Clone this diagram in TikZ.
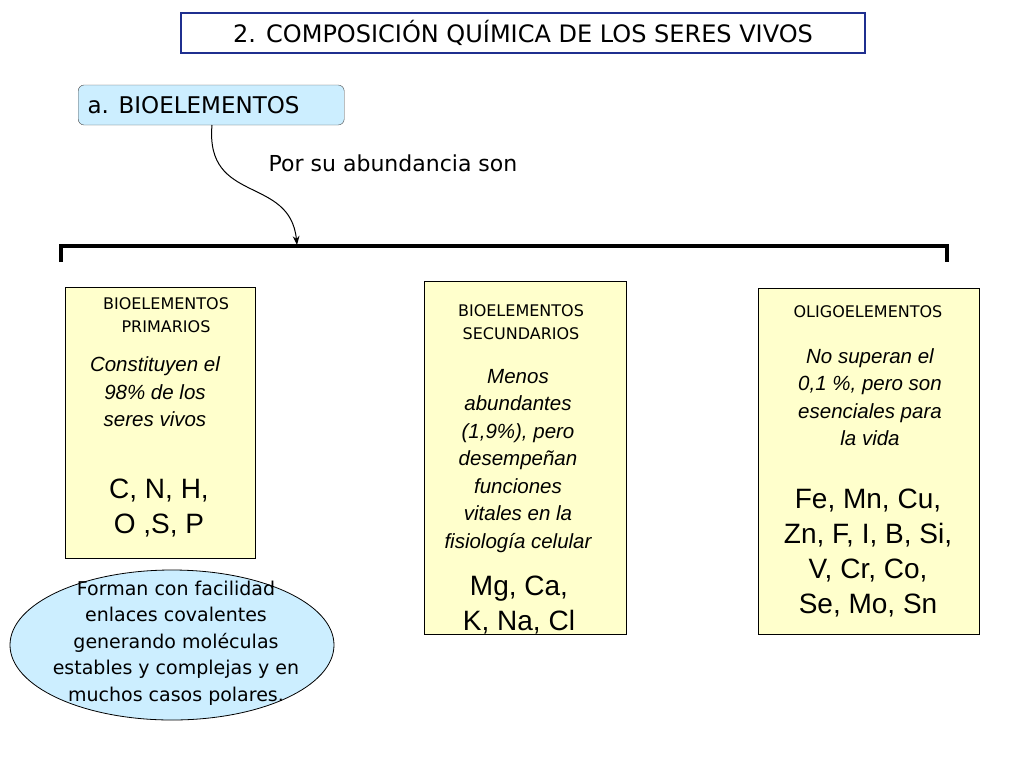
\documentclass[tikz,border=0pt]{standalone}
\usepackage{fontspec}
\setmainfont{Liberation Sans}
\newfontfamily\comic{DejaVu Sans}
\usetikzlibrary{arrows.meta}
\definecolor{ybox}{HTML}{FFFFCC}
\definecolor{lblue}{HTML}{CCEEFF}
\definecolor{dblue}{HTML}{1F2F8F}
\begin{document}
\begin{tikzpicture}[x=1pt,y=-1pt,
  ybx/.style={draw=black,fill=ybox,line width=0.8pt},
  sm/.style={font=\comic\fontsize{16}{23}\selectfont,align=center},
  it/.style={font=\itshape\fontsize{20.5}{27.5}\selectfont,align=center},
  big/.style={font=\fontsize{28}{35}\selectfont,align=center}]
\useasboundingbox (0,0) rectangle (1024,768);
\node[draw=dblue,line width=2.5pt,fill=white,minimum width=684,minimum height=40,font=\comic\fontsize{24}{26}\selectfont] (t) at (523,33) {2. COMPOSICIÓN QUÍMICA DE LOS SERES VIVOS};
\node[draw=black!70,rounded corners=6pt,fill=lblue,minimum width=266,minimum height=40,anchor=west] (a) at (78,105) {};
\node[font=\comic\fontsize{23}{26}\selectfont,anchor=west] (at) at (84,105) {a. BIOELEMENTOS};
\node[font=\comic\fontsize{22}{26}\selectfont] (p) at (393,163) {Por su abundancia son};
\coordinate (br) at (297,245);
\coordinate (cs) at (212,125);
\draw[-{Stealth[length=9pt]},line width=1pt] (cs) .. controls (205,205) and (290,175) .. (br);
\draw[line width=3.5pt] (61,262) -- (61,246) -- (947,246) -- (947,262);
\node[ybx,minimum width=190,minimum height=271,anchor=north west] (b1) at (65,287) {};
\node[ybx,minimum width=202,minimum height=353,anchor=north west] (b2) at (424,281) {};
\node[ybx,minimum width=221,minimum height=346,anchor=north west] (b3) at (758,288) {};
\node[sm] at (166,315) {BIOELEMENTOS\\PRIMARIOS};
\node[it] at (155,392) {Constituyen el\\98\% de los\\seres vivos};
\node[big] at (159,508) {C, N, H,\\O ,S, P};
\node[sm] at (521,322) {BIOELEMENTOS\\SECUNDARIOS};
\node[it] at (518,461) {Menos\\abundantes\\(1,9\%), pero\\desempeñan\\funciones\\vitales en la\\fisiología celular};
\node[big] at (519,605) {Mg, Ca,\\K, Na, Cl};
\node[sm] at (868,312) {OLIGOELEMENTOS};
\node[it] at (870,397) {No superan el\\0,1 \%, pero son\\esenciales para\\la vida};
\node[big] at (868,553) {Fe, Mn, Cu,\\Zn, F, I, B, Si,\\V, Cr, Co,\\Se, Mo, Sn};
\draw[fill=lblue,line width=0.8pt] (172,645) ellipse [x radius=162,y radius=75];
\node[font=\comic\fontsize{19}{26.5}\selectfont,align=center] (e) at (176,643) {Forman con facilidad\\enlaces covalentes\\generando moléculas\\estables y complejas y en\\muchos casos polares.};
\end{tikzpicture}
\end{document}
